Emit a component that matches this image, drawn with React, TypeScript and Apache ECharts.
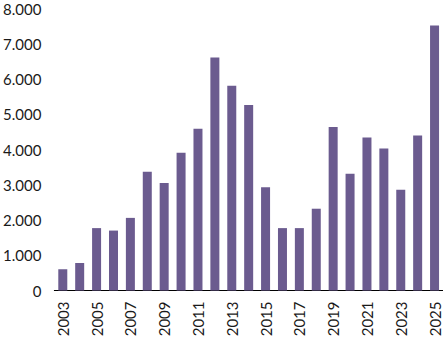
import React, { useEffect, useRef } from "react";
import * as echarts from "echarts";

const years = [
  "2003", "2004", "2005", "2006", "2007", "2008", "2009", "2010", "2011", "2012",
  "2013", "2014", "2015", "2016", "2017", "2018", "2019", "2020", "2021", "2022",
  "2023", "2024", "2025",
];
const values = [
  600, 780, 1770, 1700, 2060, 3370, 3050, 3910, 4590, 6610,
  5810, 5260, 2930, 1770, 1770, 2320, 4640, 3310, 4340, 4030,
  2860, 4400, 7520,
];
const yTicks = { min: 0, max: 8000, interval: 1000 };

export default function App() {
  const ref = useRef<HTMLDivElement>(null);
  useEffect(() => {
    if (!ref.current) return;
    const chart = echarts.init(ref.current, undefined, { renderer: "svg" });
    chart.setOption({
      animation: false,
      grid: { left: 51, right: 0, top: 8.5, bottom: 49.5, containLabel: false },
      xAxis: {
        type: "category",
        data: years,
        axisLine: { lineStyle: { color: "#000", width: 1 } },
        axisTick: { show: false },
        axisLabel: {
          rotate: 90,
          interval: 1,
          margin: 11,
          fontFamily: "Lato",
          fontSize: 15,
          color: "#1a1a1a",
        },
      },
      yAxis: {
        type: "value",
        min: yTicks.min,
        max: yTicks.max,
        interval: yTicks.interval,
        splitLine: { show: false },
        axisLine: { show: false },
        axisTick: { show: false },
        axisLabel: {
          margin: 13,
          fontFamily: "Lato",
          fontSize: 15,
          color: "#1a1a1a",
          formatter: (v: number) =>
            String(v).replace(/\B(?=(\d{3})+(?!\d))/g, "."),
        },
      },
      series: [
        {
          type: "bar",
          data: values,
          barWidth: 9,
          itemStyle: { color: "#6b5b8f" },
        },
      ],
    });
    return () => chart.dispose();
  }, []);
  return (
    <div
      ref={ref}
      style={{ position: "absolute", left: 0, top: 0, width: 443, height: 340, background: "#fff" }}
    />
  );
}
